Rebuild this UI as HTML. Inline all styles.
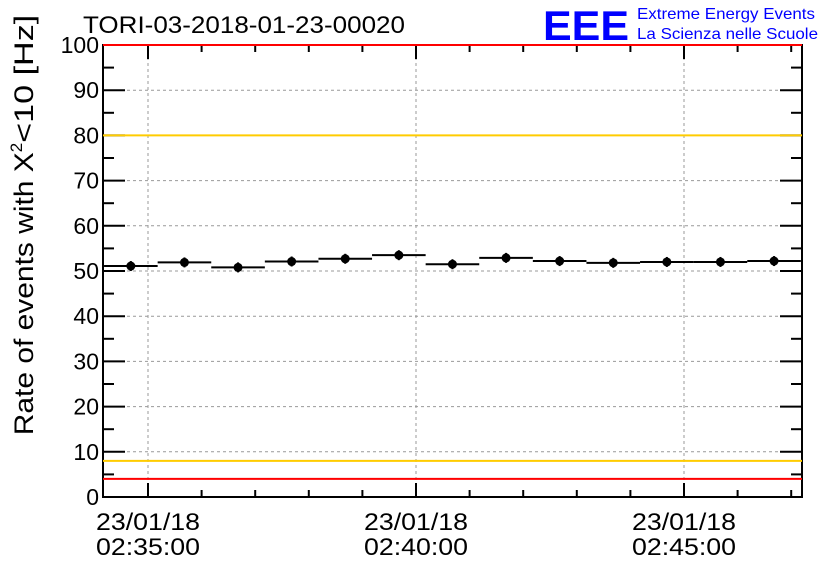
<!DOCTYPE html>
<html><head><meta charset="utf-8"><style>
body{margin:0;background:#fff}
svg{display:block;font-family:"Liberation Sans",sans-serif}
</style></head><body>
<svg id="c" width="836" height="572">
<text x="83" y="33" font-size="24" textLength="322" lengthAdjust="spacingAndGlyphs">TORI-03-2018-01-23-00020</text>
<g>
<text x="543" y="40" font-size="42" font-weight="bold" fill="#0000ff" textLength="86" lengthAdjust="spacingAndGlyphs">EEE</text>
<text x="637" y="19" font-size="16" fill="#0000ff" textLength="178" lengthAdjust="spacingAndGlyphs">Extreme Energy Events</text>
<text x="637" y="39" font-size="16" fill="#0000ff" textLength="181" lengthAdjust="spacingAndGlyphs">La Scienza nelle Scuole</text>
</g>
<text transform="translate(33,225) rotate(-90)" text-anchor="middle" font-size="27"><tspan textLength="283" lengthAdjust="spacingAndGlyphs">Rate of events with X</tspan><tspan dy="-11" font-size="17">2</tspan><tspan dy="11" textLength="128" lengthAdjust="spacingAndGlyphs">&lt;10 [Hz]</tspan></text>
<g id="grid"></g><g id="marks"></g><g id="axes"></g><g id="refs"></g>
</svg>
<script>
const yTicks=[0,10,20,30,40,50,60,70,80,90,100];
const xTickMinutes=[0,5,10];
const xTickLabels=[["23/01/18","02:35:00"],["23/01/18","02:40:00"],["23/01/18","02:45:00"]];
const binMinutes=[-0.32,0.68,1.68,2.68,3.68,4.68,5.68,6.68,7.68,8.68,9.68,10.68,11.68];
const rates=[51.1,51.9,50.8,52.1,52.7,53.5,51.5,52.9,52.2,51.8,52.0,52.0,52.2];
const yellowLines=[8,80];
const redLines=[4,100];
const L=103,R=802,T=45,B=497;
const x=m=>148+53.6*m;
const y=v=>B-(v/100)*(B-T);
const NS="http://www.w3.org/2000/svg";
function mk(p,tag,a){const e=document.createElementNS(NS,tag);for(const k in a)e.setAttribute(k,a[k]);document.getElementById(p).appendChild(e);return e;}
yTicks.forEach(v=>{if(v>0&&v<100){const g=mk('grid','line',{x1:L,x2:R,y1:y(v),y2:y(v),stroke:'#999','stroke-dasharray':'3,3'});

}});
xTickMinutes.forEach(m=>{const g=mk('grid','line',{x1:x(m),x2:x(m),y1:T,y2:B,stroke:'#999','stroke-dasharray':'3,3'});

});
yellowLines.forEach(v=>{const l=mk('refs','line',{x1:L,x2:R,y1:y(v),y2:y(v),stroke:'#ffcc00','stroke-width':2});

});
redLines.forEach(v=>{const l=mk('refs','line',{x1:L,x2:R,y1:y(v),y2:y(v),stroke:'#ff0000','stroke-width':2});

});
rates.forEach((v,i)=>{const m=binMinutes[i];
const x1=Math.max(L,x(m-0.5)),x2=Math.min(R,x(m+0.5));
const b=mk('marks','line',{x1:x1,x2:x2,y1:y(v),y2:y(v),stroke:'#000','stroke-width':2});


const e=mk('marks','line',{x1:x(m),x2:x(m),y1:y(v)-5,y2:y(v)+5,stroke:'#000','stroke-width':2});


const c=mk('marks','circle',{cx:x(m),cy:y(v),r:4.5,fill:'#000'});

});
const fr=mk('axes','rect',{x:L,y:T,width:R-L,height:B-T,fill:'none',stroke:'#000','stroke-width':2});


for(let v=0;v<=100;v+=5){const len=v%10===0?22:11;
mk('axes','line',{x1:L,x2:L+len,y1:y(v),y2:y(v),stroke:'#000','stroke-width':2});
mk('axes','line',{x1:R-len,x2:R,y1:y(v),y2:y(v),stroke:'#000','stroke-width':2});}
yTicks.forEach(v=>{const t=mk('axes','text',{x:L-4,y:y(v)+8,'text-anchor':'end','font-size':23});
t.textContent=v;

});
for(let m=0;m<=12;m++){const len=m%5===0?14:7;
mk('axes','line',{x1:x(m),x2:x(m),y1:B-len,y2:B,stroke:'#000','stroke-width':2});
mk('axes','line',{x1:x(m),x2:x(m),y1:T,y2:T+len,stroke:'#000','stroke-width':2});}
xTickMinutes.forEach((m,i)=>{xTickLabels[i].forEach((s,j)=>{const t=mk('axes','text',{x:x(m),y:530+j*25,'text-anchor':'middle','font-size':24,textLength:104,lengthAdjust:'spacingAndGlyphs'});
t.textContent=s;

});});
</script>
</body></html>
